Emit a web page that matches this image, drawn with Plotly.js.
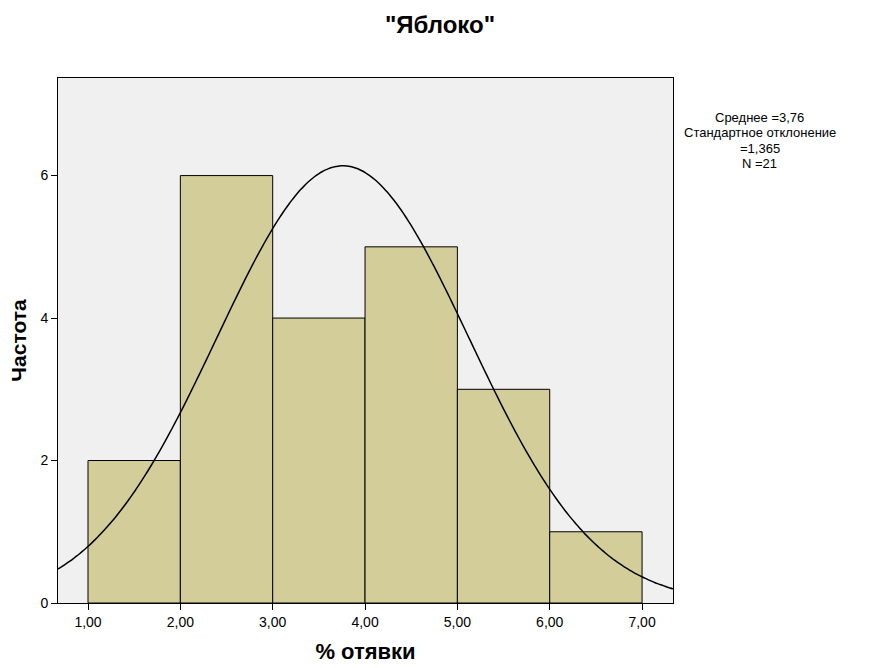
<!DOCTYPE html>
<html>
<head>
<meta charset="utf-8">
<script src="https://cdn.plot.ly/plotly-3.0.1.min.js"></script>
<style>html,body{margin:0;padding:0;background:#fff;}#chart{width:879px;height:668px;}</style>
</head>
<body>
<div id="chart"></div>
<script>
// Histogram bins (left edges, width 1) and frequencies
var binStarts = [1, 2, 3, 4, 5, 6];
var binWidth = 1;
var frequencies = [2, 6, 4, 5, 3, 1];
// Stated statistics (fitted normal curve parameters)
var mean = 3.76;
var stdDev = 1.365;
var nCount = 21;
// Tick labels
var xTickVals = [1, 2, 3, 4, 5, 6, 7];
var xTickText = ["1,00", "2,00", "3,00", "4,00", "5,00", "6,00", "7,00"];
var yTickVals = [0, 2, 4, 6];
var yTickText = ["0", "2", "4", "6"];
// Statistics box lines
var statLines = [
  'Среднее =' + String(mean).replace('.', ','),
  'Стандартное отклонение',
  '=' + String(stdDev).replace('.', ','),
  'N =' + nCount
];

var xMin = 0.675, xMax = 7.335;
var binCenters = binStarts.map(function(s){ return s + binWidth/2; });

// Normal curve from the stated mean / sd / N, scaled by bin width
var curveX = [], curveY = [];
var steps = 200;
for (var i = 0; i <= steps; i++) {
  var x = xMin + (xMax - xMin) * i / steps;
  var z = (x - mean) / stdDev;
  curveX.push(x);
  curveY.push(nCount * binWidth / (stdDev * Math.sqrt(2 * Math.PI)) * Math.exp(-0.5 * z * z));
}

var traces = [
  {
    type: 'bar',
    x: binCenters,
    y: frequencies,
    width: binWidth,
    marker: {color: '#d3ce99', line: {color: '#000', width: 1}},
    hoverinfo: 'x+y'
  },
  {
    type: 'scatter',
    mode: 'lines',
    x: curveX,
    y: curveY,
    line: {color: '#000', width: 1.5, shape: 'spline'},
    hoverinfo: 'skip'
  }
];

var plotTop = 78, plotH = 525, plotL = 58, plotW = 615;
var annotations = statLines.map(function(t, k){
  var yPix = 117 + k * 15.6;
  return {
    xref: 'paper', yref: 'paper',
    x: (760 - plotL) / plotW, y: 1 - (yPix - plotTop) / plotH,
    xanchor: 'center', yanchor: 'middle',
    showarrow: false,
    text: t,
    font: {size: 13, color: '#000'}
  };
});

var layout = {
  width: 879,
  height: 668,
  showlegend: false,
  paper_bgcolor: '#ffffff',
  plot_bgcolor: '#f0f0f0',
  margin: {l: 58, r: 206, t: 78, b: 65},
  font: {family: 'Liberation Sans, Arial, sans-serif', color: '#000', size: 13},
  title: {
    text: '<b>"Яблоко"</b>',
    font: {size: 24, family: 'Liberation Sans, Arial, sans-serif', color: '#000'},
    x: 440/879, xref: 'container', xanchor: 'center',
    y: 1 - 25/668, yref: 'container', yanchor: 'middle'
  },
  bargap: 0,
  xaxis: {
    range: [xMin, xMax],
    tickvals: xTickVals,
    ticktext: xTickText,
    ticks: 'outside',
    ticklen: 6,
    tickcolor: '#000',
    tickfont: {size: 14},
    showgrid: false,
    zeroline: false,
    showline: true,
    linecolor: '#000',
    linewidth: 1,
    mirror: true,
    title: {text: '<b>% отявки</b>', font: {size: 22}, standoff: 14}
  },
  yaxis: {
    range: [0, 7.37],
    tickvals: yTickVals,
    ticktext: yTickText,
    ticks: 'outside',
    ticklen: 6,
    tickcolor: '#000',
    tickfont: {size: 14},
    showgrid: false,
    zeroline: false,
    showline: true,
    linecolor: '#000',
    linewidth: 1,
    mirror: true,
    title: {text: '<b>Частота</b>', font: {size: 21}, standoff: 8}
  },
  annotations: annotations
};

Plotly.newPlot('chart', traces, layout, {displayModeBar: false, staticPlot: true});
</script>
</body>
</html>
